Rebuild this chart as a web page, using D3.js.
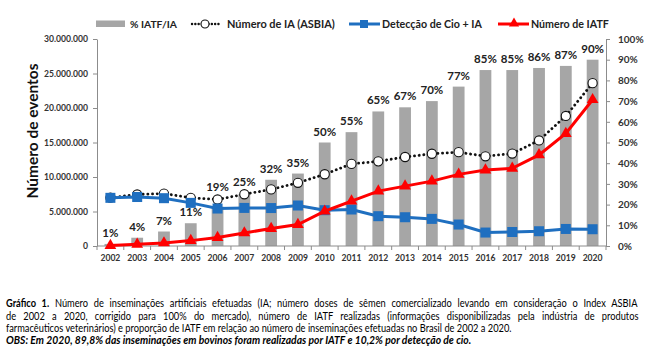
<!DOCTYPE html>
<html><head><meta charset="utf-8">
<script src="https://cdn.jsdelivr.net/npm/d3@7"></script>
<style>
html,body{margin:0;padding:0;background:#fff;}
svg{display:block;font-family:Lato,"Open Sans",sans-serif;}
</style></head>
<body>
<svg id="chart" width="654" height="355"></svg>
<script>
const years = ["2002","2003","2004","2005","2006","2007","2008","2009","2010","2011","2012","2013","2014","2015","2016","2017","2018","2019","2020"];
const pctIATF = [1,4,7,11,19,25,32,35,50,55,65,67,70,77,85,85,86,87,90];
const numeroIA = [7.0,7.47,7.6,6.98,6.74,7.5,8.2,9.16,10.4,11.9,12.27,12.9,13.37,13.6,13.0,13.4,15.3,18.85,23.6];
const deteccaoCio = [6.98,7.1,6.93,6.25,5.43,5.52,5.5,5.87,5.19,5.29,4.32,4.17,3.93,3.11,1.95,2.03,2.14,2.47,2.43];
const numeroIATF = [0.07,0.25,0.44,0.78,1.22,1.89,2.53,3.11,5.04,6.5,7.95,8.68,9.4,10.38,11.0,11.25,13.2,16.3,21.2];
const leftTicks = [0,5e6,10e6,15e6,20e6,25e6,30e6];
const rightTicks = [0,0.1,0.2,0.3,0.4,0.5,0.6,0.7,0.8,0.9,1.0];
const legendLabels = ["% IATF/IA","Número de IA (ASBIA)","Detecção de Cio + IA","Número de IATF"];
const yTitle = "Número de eventos";
const captionLines = [
  [["Gráfico 1.","bold"],[" Número de inseminações artificiais efetuadas (IA; número doses de sêmen comercializado levando em consideração o Index ASBIA","normal"]],
  [["de 2002 a 2020, corrigido para 100% do mercado), número de IATF realizadas (informações disponibilizadas pela indústria de produtos","normal"]],
  [["farmacêuticos veterinários) e proporção de IATF em relação ao número de inseminações efetuadas no Brasil de 2002 a 2020.","normal"]],
  [["OBS: Em 2020, 89,8% das inseminações em bovinos foram realizadas por IATF e 10,2% por detecção de cio.","bolditalic"]]
];

const svg = d3.select("#chart");
const L = 97, R = 606, T = 39, B = 246;
const BLUE = "#1F6FC0", RED = "#FF0000", GRAY = "#A6A6A6", AX = "#8c8c8c", TXT = "#333";

const x = d3.scaleBand().domain(years).range([L, R]).paddingInner(0.56).paddingOuter(0.28);
const xc = d => x(d) + x.bandwidth()/2;
const yL = d3.scaleLinear().domain([0, 30e6]).range([B, T]);
const yR = d3.scaleLinear().domain([0, 1]).range([B, T]);

const loc = d3.formatLocale({decimal:",", thousands:".", grouping:[3], currency:["",""]});
const fmtL = loc.format(",");

function fitWidth(sel, w) {
  const n = sel.node();
  const cur = parseFloat(sel.attr("font-size"));
  const len = n.getComputedTextLength();
  sel.attr("font-size", cur * w / len);
}

// bars
svg.append("g").selectAll("rect").data(years).join("rect")
  .attr("x", d => x(d)).attr("width", x.bandwidth())
  .attr("y", (d,i) => yR(pctIATF[i]/100))
  .attr("height", (d,i) => B - yR(pctIATF[i]/100))
  .attr("fill", GRAY);

// axes
const gl = svg.append("g").attr("transform", `translate(${L},0)`)
  .call(d3.axisLeft(yL).tickValues(leftTicks).tickFormat(fmtL).tickSize(4).tickSizeOuter(0).tickPadding(5));
const gr = svg.append("g").attr("transform", `translate(${R},0)`)
  .call(d3.axisRight(yR).tickValues(rightTicks).tickFormat(d3.format(".0%")).tickSize(4).tickSizeOuter(0).tickPadding(8));
[gl, gr].forEach(g => {
  g.select(".domain").attr("stroke", AX);
  g.selectAll(".tick line").attr("stroke", AX);
  g.selectAll("text").attr("fill", TXT).attr("font-weight", "bold").attr("font-family", "Lato");
});
gl.selectAll("text").attr("font-size", 8.6);
gr.selectAll("text").attr("font-size", 10);

// bottom axis
svg.append("line").attr("x1", L).attr("x2", R).attr("y1", B).attr("y2", B).attr("stroke", AX);
const step = x.step();
svg.append("g").selectAll("line").data(d3.range(years.length + 1)).join("line")
  .attr("x1", i => L + i*step).attr("x2", i => L + i*step)
  .attr("y1", B).attr("y2", B + 4).attr("stroke", AX);
svg.append("g").selectAll("text").data(years).join("text")
  .attr("x", d => xc(d)).attr("y", 261).attr("text-anchor", "middle")
  .attr("font-size", 8.6).attr("font-weight", "bold").attr("fill", TXT).text(d => d);

// percent labels (lifted above the IA marker when they would collide)
function labelY(i) {
  const yb = yR(pctIATF[i]/100) - 7;
  const yc = yL(numeroIA[i]*1e6);
  return Math.abs(yb - yc) < 10 ? yc - 8 : yb;
}
svg.append("g").selectAll("text").data(years).join("text")
  .attr("x", d => xc(d)).attr("y", (d,i) => labelY(i))
  .attr("text-anchor", "middle").attr("font-size", 11.5).attr("font-weight", "bold").attr("fill", "#222")
  .text((d,i) => pctIATF[i] + "%");

// lines
const mk = arr => d3.line().x((d,i) => xc(years[i])).y(d => yL(d*1e6))(arr);
svg.append("path").attr("d", mk(numeroIA)).attr("fill", "none").attr("stroke", "#111")
  .attr("stroke-width", 2.8).attr("stroke-dasharray", "0.1,4.6").attr("stroke-linecap", "round");
svg.append("g").selectAll("circle").data(numeroIA).join("circle")
  .attr("cx", (d,i) => xc(years[i])).attr("cy", d => yL(d*1e6)).attr("r", 4.6)
  .attr("fill", "#fff").attr("stroke", "#111").attr("stroke-width", 1.1);

svg.append("path").attr("d", mk(deteccaoCio)).attr("fill", "none").attr("stroke", BLUE).attr("stroke-width", 3);
svg.append("g").selectAll("rect").data(deteccaoCio).join("rect")
  .attr("x", (d,i) => xc(years[i]) - 5).attr("y", d => yL(d*1e6) - 5).attr("width", 10).attr("height", 10)
  .attr("fill", BLUE);

svg.append("path").attr("d", mk(numeroIATF)).attr("fill", "none").attr("stroke", RED).attr("stroke-width", 3);
const tri = d3.symbol().type(d3.symbolTriangle).size(60);
svg.append("g").selectAll("path").data(numeroIATF).join("path")
  .attr("transform", (d,i) => `translate(${xc(years[i])},${yL(d*1e6)})`)
  .attr("d", tri).attr("fill", RED);

// legend
const lg = svg.append("g");
const LY = 24;
lg.append("rect").attr("x", 96).attr("y", LY - 3.5).attr("width", 29).attr("height", 6.5).attr("fill", GRAY);
lg.append("line").attr("x1", 192).attr("x2", 220).attr("y1", LY).attr("y2", LY).attr("stroke", "#111")
  .attr("stroke-width", 2.4).attr("stroke-dasharray", "0.1,3.2").attr("stroke-linecap", "round");
lg.append("circle").attr("cx", 205).attr("cy", LY).attr("r", 4).attr("fill", "#fff").attr("stroke", "#111").attr("stroke-width", 1.1);
lg.append("line").attr("x1", 349).attr("x2", 380).attr("y1", LY).attr("y2", LY).attr("stroke", BLUE).attr("stroke-width", 3);
lg.append("rect").attr("x", 360).attr("y", LY - 4).attr("width", 8).attr("height", 8).attr("fill", BLUE);
lg.append("line").attr("x1", 498).attr("x2", 529).attr("y1", LY).attr("y2", LY).attr("stroke", RED).attr("stroke-width", 3);
lg.append("path").attr("transform", `translate(514,${LY - 0.5})`).attr("d", d3.symbol().type(d3.symbolTriangle).size(45)).attr("fill", RED);
const legPos = [[130,47],[227,108],[382,100],[531,78]];
legendLabels.forEach((t, i) => {
  const s = lg.append("text").attr("x", legPos[i][0]).attr("y", LY + 4).attr("font-size", 11)
    .attr("font-weight", "bold").attr("fill", "#222").text(t);
  fitWidth(s, legPos[i][1]);
});

// y title
const yt = svg.append("text").attr("transform", "translate(38,131) rotate(-90)").attr("text-anchor", "middle")
  .attr("font-size", 16).attr("font-weight", "bold").attr("fill", "#111").text(yTitle);
fitWidth(yt, 135);

// caption: Calibri-like horizontal condensing; first two lines justified
const capY = [307, 319.5, 332, 344];
const capW = [632, 633, 506, 466];
const capEls = captionLines.map((parts, li) => {
  const g = svg.append("g");
  const t = g.append("text").attr("x", 0).attr("y", 0).attr("font-size", 11).attr("fill", "#000");
  parts.forEach(([s, st]) => {
    const sp = t.append("tspan").text(s);
    if (st === "bold") sp.attr("font-weight", "bold");
    if (st === "bolditalic") sp.attr("font-weight", "bold").attr("font-style", "italic");
  });
  return {g, t};
});
const k = capW[2] / capEls[2].t.node().getComputedTextLength();
capEls.forEach(({g, t}, li) => {
  let kk = k;
  if (li < 2) {
    const w = t.node().getComputedTextLength();
    const nsp = (t.text().match(/ /g) || []).length;
    t.attr("word-spacing", Math.max(0, (capW[li] / k - w) / nsp));
  } else if (li === 3) {
    kk = capW[3] / t.node().getComputedTextLength();
  }
  g.attr("transform", `translate(6,${capY[li]}) scale(${kk},1)`);
});
</script>
</body></html>
